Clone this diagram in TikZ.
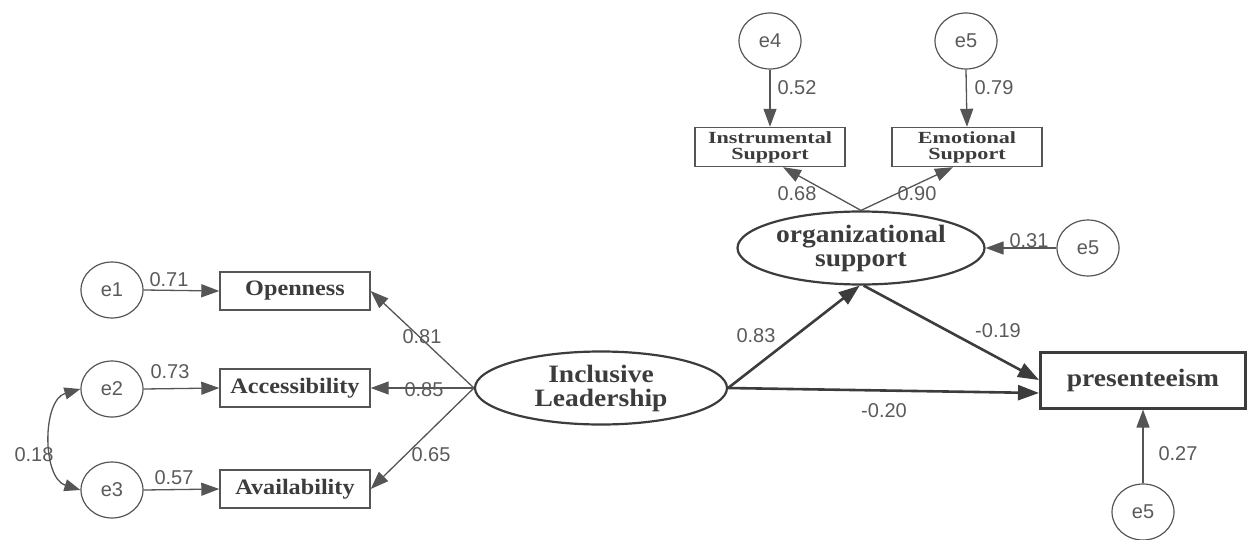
\documentclass[tikz,border=0pt]{standalone}
\usepackage{fontspec}
\setmainfont{Liberation Serif}
\newfontfamily\labfont{Liberation Sans}
\newfontfamily\boxfont{Liberation Serif}[FakeStretch=1.1]
\newfontfamily\widefont{Liberation Serif}[FakeStretch=1.3]
\usetikzlibrary{shapes.geometric,arrows.meta}
\definecolor{ink}{HTML}{3C3C3C}
\definecolor{numc}{HTML}{5A5A5A}
\definecolor{linec}{HTML}{555555}
\begin{document}
\begin{tikzpicture}[x=1pt,y=-1pt,
 err/.style={ellipse,draw=linec,line width=1.2pt,minimum width=62pt,minimum height=56pt,inner sep=0pt,text=numc,font=\labfont\fontsize{20}{22}\selectfont},
 obs/.style={rectangle,draw=linec,line width=1.4pt,inner sep=0pt,text=ink,font=\boxfont\bfseries\fontsize{22}{24}\selectfont,minimum width=150pt,minimum height=38pt},
 supbox/.style={obs,align=center,minimum width=150pt,minimum height=39pt,font=\widefont\bfseries\fontsize{17}{16}\selectfont},
 lat/.style={ellipse,draw=ink,line width=2.2pt,inner sep=0pt,align=center,text=ink,font=\boxfont\bfseries\fontsize{25}{24}\selectfont},
 num/.style={text=numc,font=\labfont\fontsize{20}{22}\selectfont,inner sep=0pt},
 thinarr/.style={draw=linec,line width=1.3pt,-{Triangle[length=18pt,width=13pt]}},
 thickarr/.style={draw=ink,line width=2.6pt,-{Triangle[length=21pt,width=15pt]}},
]
\useasboundingbox (0,0) rectangle (1249,540);
% error terms
\node[err] (e1) at (112,290) {e1};
\node[err] (e2) at (112,389) {e2};
\node[err] (e3) at (112,490) {e3};
\node[err] (e4) at (770,41) {e4};
\node[err] (e5a) at (966,41) {e5};
\node[err] (e5b) at (1088,248) {e5};
\node[err] (e5c) at (1143,512) {e5};
% observed
\node[obs] (open) at (295,291) {Openness};
\node[obs] (acc) at (295,388) {Accessibility};
\node[obs] (avail) at (295,489) {Availability};
\node[supbox] (inst) at (770,147) {Instrumental\\Support};
\node[supbox] (emot) at (967,147) {Emotional\\Support};
\node[obs,draw=ink,line width=3pt,minimum width=205pt,minimum height=56pt,font=\boxfont\bfseries\fontsize{25}{26}\selectfont] (pres) at (1143,380) {presenteeism};
% latent
\node[lat,minimum width=252pt,minimum height=73pt] (il) at (601,388) {Inclusive\\Leadership};
\node[lat,minimum width=247pt,minimum height=73pt] (org) at (861,248) {organizational\\support};
% connectors
\draw[thinarr] (e1.east) -- (open.west);
\draw[thinarr] (e2.east) -- (acc.west);
\draw[thinarr] (e3.east) -- (avail.west);
\draw[thinarr] (il.west) -- (open.east);
\draw[thinarr] (il.west) -- (acc.east);
\draw[thinarr] (il.west) -- (avail.east);
\draw[draw=linec,line width=1.3pt,{Triangle[length=16pt,width=12pt]}-{Triangle[length=16pt,width=12pt]}] (e2.west) .. controls (42,400) and (42,478) .. (e3.west);
\draw[thinarr] (e4.south) -- (inst.north);
\draw[thinarr] (e5a.south) -- (emot.north);
\draw[thinarr] (org.north) -- ([xshift=13pt]inst.south);
\draw[thinarr] (org.north) -- ([xshift=-14pt]emot.south);
\draw[thinarr] (e5b.west) -- (org.east);
\draw[thinarr] (e5c.north) -- (pres.south);
\draw[thickarr] (il.east) -- (org.-92);
\draw[thickarr] (org.-86) -- (pres.west);
\draw[thickarr] (il.east) -- ([yshift=-13pt]pres.west);
% labels
\node[num] (l1) at (169,280) {0.71};
\node[num] (l2) at (170,372) {0.73};
\node[num] (l3) at (174,478) {0.57};
\node[num] (l4) at (34,455) {0.18};
\node[num] (l5) at (422,337) {0.81};
\node[num] (l6) at (424,390) {0.85};
\node[num] (l7) at (431,455) {0.65};
\node[num] (l8) at (797,88) {0.52};
\node[num] (l9) at (994,88) {0.79};
\node[num] (l10) at (797,194) {0.68};
\node[num] (l11) at (917,194) {0.90};
\node[num] (l12) at (1029,241) {0.31};
\node[num] (l13) at (1178,454) {0.27};
\node[num] (l14) at (756,336) {0.83};
\node[num] (l15) at (998,331) {-0.19};
\node[num] (l16) at (884,411) {-0.20};
\end{tikzpicture}
\end{document}
